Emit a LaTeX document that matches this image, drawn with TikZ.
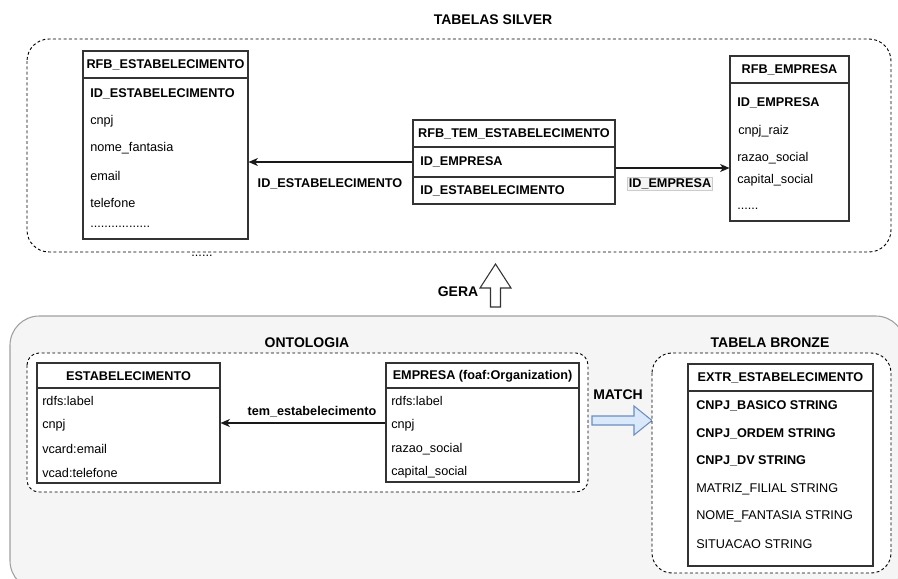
\documentclass[tikz,border=0pt]{standalone}
\usepackage{fontspec}
\setmainfont{Liberation Sans}
\usetikzlibrary{arrows.meta,fit}
\newcommand\fs{\fontsize{9.5}{11}\selectfont}
\newcommand\ftitle{\fontsize{10.5}{12}\selectfont\bfseries}
\definecolor{grpfill}{RGB}{245,245,245}
\definecolor{grpdraw}{RGB}{160,160,160}
\definecolor{bluefill}{RGB}{218,232,252}
\definecolor{bluedraw}{RGB}{108,142,191}
\newcommand\mktable[6]{%
  \coordinate (#1-nw) at (#2,#3);
  \coordinate (#1-se) at (#4,#5);
  \node[tblbox, fit=(#1-nw)(#1-se)] (#1) {};
  \draw[tblline] (#2,#6) -- (#4,#6);}
\tikzset{
  tblbox/.style={draw=black!80, line width=0.8pt, fill=white, inner sep=0pt},
  tblline/.style={draw=black!80, line width=0.8pt},
  hdr/.style={font=\fs\bfseries, inner sep=0pt},
  fld/.style={font=\fs, anchor=west, inner sep=0pt},
  bfld/.style={font=\fs\bfseries, anchor=west, inner sep=0pt},
  ttl/.style={font=\ftitle, inner sep=0pt},
  grp/.style={draw=black, line width=0.7pt, dash pattern=on 2.2pt off 1.8pt, fill=white},
  conn/.style={draw=black!90, line width=0.8pt, -{Stealth[length=7pt,width=6pt,inset=2pt]}},
  elbl/.style={font=\fs\bfseries, inner sep=1pt},
}
\begin{document}
\begin{tikzpicture}[x=0.75pt,y=-0.75pt]
\useasboundingbox (0,0) rectangle (898,578);
\clip (0,0) rectangle (898,578);
\fill[white] (0,0) rectangle (898,578);

% ---------- TABELAS SILVER ----------
\node[ttl] (tsilver) at (493,20) {TABELAS SILVER};
\draw[grp, rounded corners=16.5pt] (27,39) rectangle (891,252);

\mktable{rfbest}{83}{51}{248}{239}{78}
\node[hdr] (rfbest-h) at (165.5,65) {RFB\_ESTABELECIMENTO};
\node[bfld] (rfbest-f1) at (90,94) {ID\_ESTABELECIMENTO};
\node[fld] (rfbest-f2) at (90,121) {cnpj};
\node[fld] (rfbest-f3) at (90,148) {nome\_fantasia};
\node[fld] (rfbest-f4) at (90,176) {email};
\node[fld] (rfbest-f5) at (90,203) {telefone};
\node[fld] (rfbest-f6) at (90,227) {.................};
\node[font=\fs, inner sep=0pt] (rfbest-more) at (202,256) {......};

\mktable{tem}{413}{120}{615}{204}{147}
\draw[tblline] (413,177) -- (615,177);
\node[hdr] (tem-h) at (514,134) {RFB\_TEM\_ESTABELECIMENTO};
\node[bfld] (tem-f1) at (420,162) {ID\_EMPRESA};
\node[bfld] (tem-f2) at (420,191) {ID\_ESTABELECIMENTO};

\mktable{rfbemp}{730}{56}{849}{221}{83}
\node[hdr] (rfbemp-h) at (789.5,70) {RFB\_EMPRESA};
\node[bfld] (rfbemp-f1) at (737,103) {ID\_EMPRESA};
\node[fld] (rfbemp-f2) at (738,131) {cnpj\_raiz};
\node[fld] (rfbemp-f3) at (737,158) {razao\_social};
\node[fld] (rfbemp-f4) at (737,180) {capital\_social};
\node[fld] (rfbemp-f5) at (737,209) {......};

\coordinate (rowb) at (0,168);
\draw[conn] (tem.west |- tem-f1) -- (rfbest.east |- tem-f1);
\node[elbl] (lbl-idest) at (330,184) {ID\_ESTABELECIMENTO};
\draw[conn] (tem.east |- rowb) -- (rfbemp.west |- rowb);
\node[elbl, draw=black!20, fill=black!4] (lbl-idemp) at (670,184) {ID\_EMPRESA};

% ---------- GERA ----------
\draw[fill=white, draw=black!80, line width=0.8pt]
  (495.5,264) -- (511,288) -- (500.5,288) -- (500.5,307) -- (490.5,307)
  -- (490.5,288) -- (480,288) -- cycle;
\node[ttl] (gera) at (458,292) {GERA};

% ---------- bottom group ----------
\draw[fill=grpfill, draw=grpdraw, line width=0.8pt, rounded corners=22pt]
  (10,316) rectangle (905,590);

\node[ttl] (tonto) at (307,343) {ONTOLOGIA};
\draw[grp, rounded corners=9pt] (27,353) rectangle (588,492);

\mktable{est}{37}{363}{220}{483}{388}
\node[hdr] (est-h) at (128.5,376) {ESTABELECIMENTO};
\node[fld] (est-f1) at (42,401) {rdfs:label};
\node[fld] (est-f2) at (42,425) {cnpj};
\node[fld] (est-f3) at (42,449) {vcard:email};
\node[fld] (est-f4) at (42,473) {vcad:telefone};

\mktable{emp}{386}{363}{579}{482}{388}
\node[hdr] (emp-h) at (482.5,376) {EMPRESA (foaf:Organization)};
\node[fld] (emp-f1) at (391,401) {rdfs:label};
\node[fld] (emp-f2) at (391,425) {cnpj};
\node[fld] (emp-f3) at (391,449) {razao\_social};
\node[fld] (emp-f4) at (391,472) {capital\_social};

\coordinate (rowc) at (0,423);
\draw[conn] (emp.west |- rowc) -- (est.east |- rowc);
\node[elbl] (lbl-tem) at (312,412) {tem\_estabelecimento};

\node[ttl] (match) at (618,395) {MATCH};
\draw[fill=bluefill, draw=bluedraw, line width=0.8pt]
  (592,416) -- (634,416) -- (634,406) -- (652,420.5) -- (634,435)
  -- (634,425) -- (592,425) -- cycle;

\node[ttl] (tbronze) at (770,343) {TABELA BRONZE};
\draw[grp, rounded corners=15pt] (652,353) rectangle (891,573);

\mktable{extr}{688}{364}{873}{566}{391}
\node[hdr] (extr-h) at (780.5,378) {EXTR\_ESTABELECIMENTO};
\node[bfld] (extr-f1) at (696,406) {CNPJ\_BASICO STRING};
\node[bfld] (extr-f2) at (696,433.5) {CNPJ\_ORDEM STRING};
\node[bfld] (extr-f3) at (696,461) {CNPJ\_DV STRING};
\node[fld] (extr-f4) at (696,489) {MATRIZ\_FILIAL STRING};
\node[fld] (extr-f5) at (696,516.5) {NOME\_FANTASIA STRING};
\node[fld] (extr-f6) at (696,544) {SITUACAO STRING};
\end{tikzpicture}
\end{document}
